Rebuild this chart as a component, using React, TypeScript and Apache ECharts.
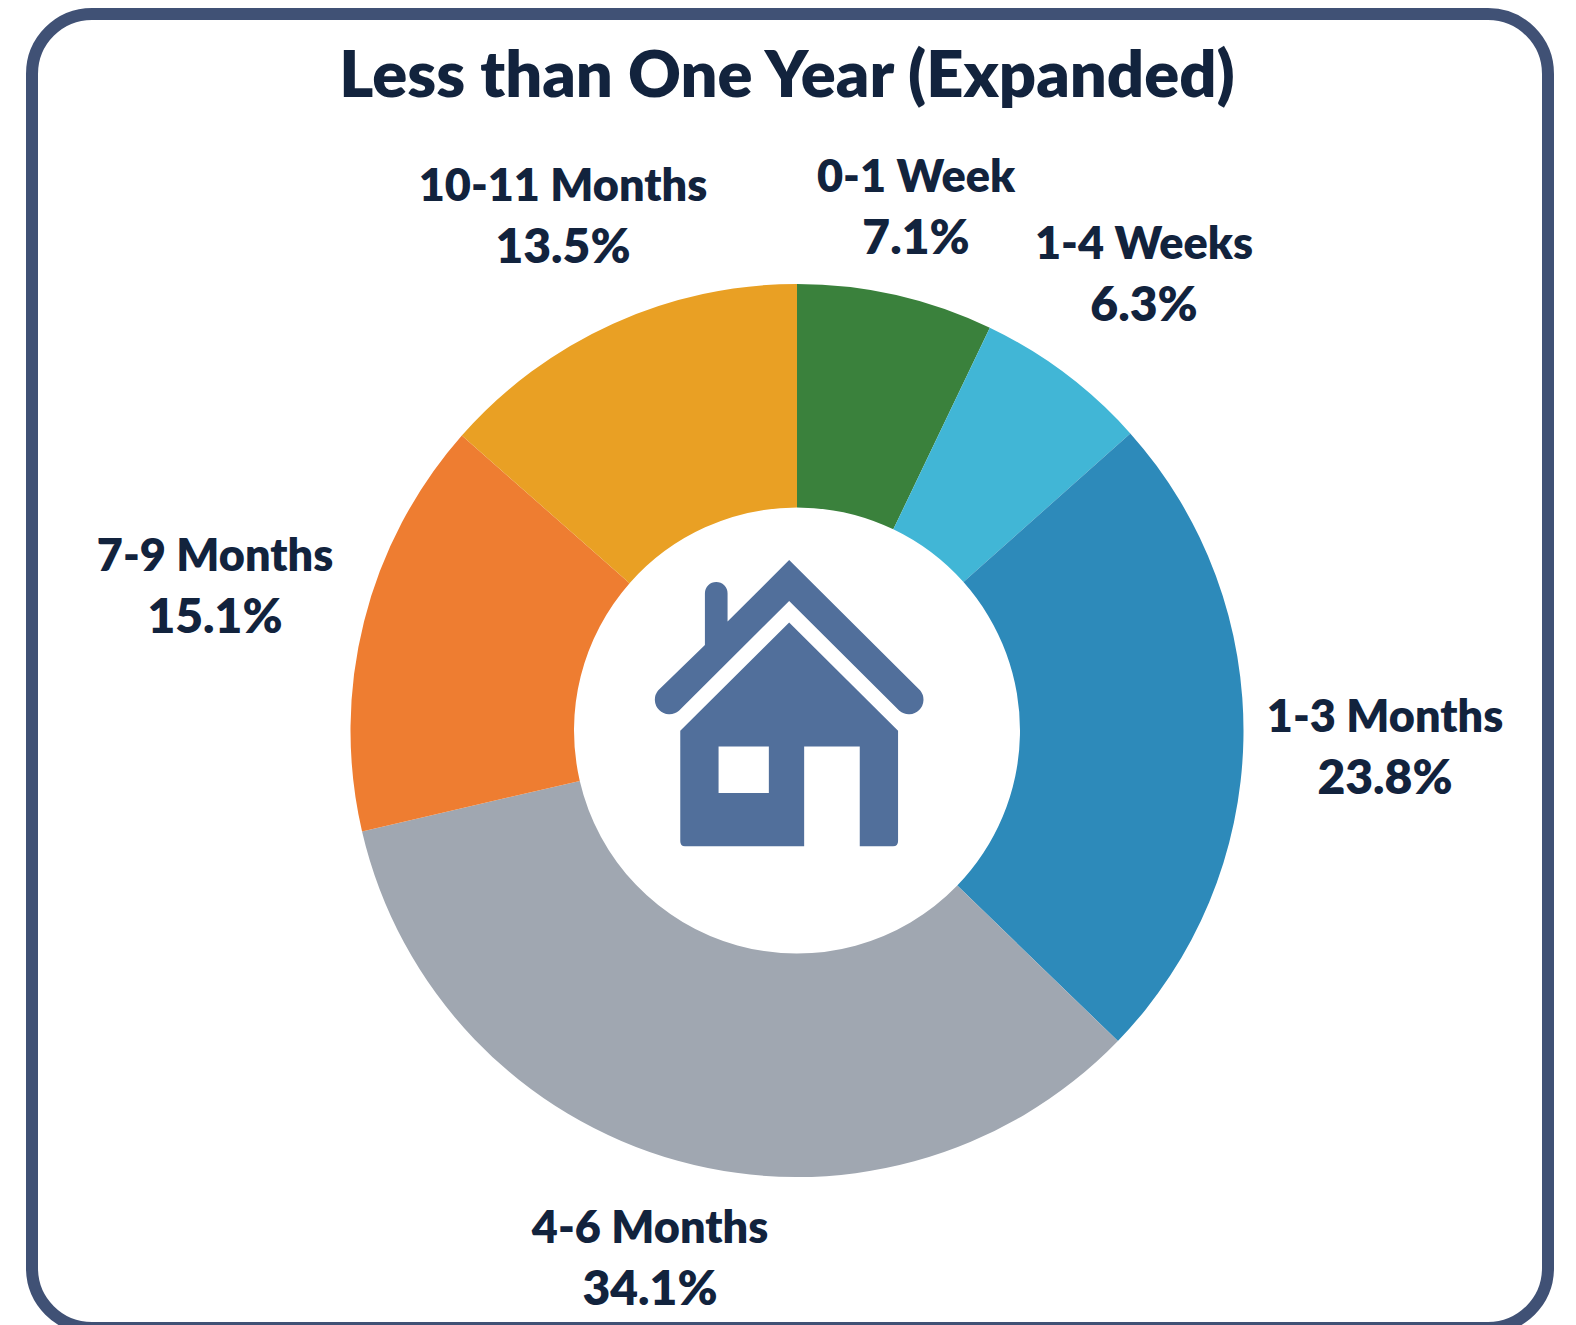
import React, { useEffect, useRef } from "react";
import * as echarts from "echarts";

const titleText = "Less than One Year (Expanded)";
const categories = ["0-1 Week", "1-4 Weeks", "1-3 Months", "4-6 Months", "7-9 Months", "10-11 Months"];
const shares = [7.1, 6.3, 23.8, 34.1, 15.1, 13.5];
const colors = ["#3A813C", "#41B6D6", "#2D8ABA", "#A0A7B1", "#EE7D31", "#E9A024"];
const labelCentersX = [916, 1144, 1385, 650, 215, 563];
const labelCentersY = [205, 272, 745, 1256, 584, 214];

const TEXT = "#12233D";
const FONT = "Lato";

const HOUSE_D =
  "M508 90 L901 481 A44 44 0 0 1 839 543 L508 213 L177 543 A44 44 0 0 1 115 481 L255 345 L255 190 A34 34 0 0 1 323 190 L323 275 Z " +
  "M508 278 L835 603 L835 935 Q835 950 820 950 L720 950 L720 650 L553 650 L553 950 L195 950 Q181 950 181 935 L181 603 Z " +
  "M296 650 L296 790 L447 790 L447 650 Z";

echarts.graphic.registerShape("houseIcon", echarts.graphic.extendPath(HOUSE_D, {}) as any);

export default function App() {
  const ref = useRef<HTMLDivElement>(null);
  useEffect(() => {
    const chart = echarts.init(ref.current!, undefined, { renderer: "svg" });
    chart.setOption({
      animation: false,
      backgroundColor: "#ffffff",
      title: {
        text: titleText,
        left: 782,
        top: 67,
        textAlign: "center",
        textVerticalAlign: "middle",
        textStyle: { fontFamily: FONT, fontWeight: 800, fontSize: 65, color: TEXT },
      },
      graphic: [
        {
          type: "rect",
          shape: { x: 32, y: 14, width: 1516, height: 1314, r: 60 },
          style: { fill: "none", stroke: "#405175", lineWidth: 12 },
          silent: true,
        },
        {
          type: "houseIcon",
          x: 620,
          y: 530,
          scaleX: 1 / 3,
          scaleY: 1 / 3,
          style: { fill: "#516F9B" },
          silent: true,
        },
      ],
      series: [
        {
          type: "pie",
          center: [797, 730.5],
          radius: [223, 446.5],
          startAngle: 90,
          clockwise: true,
          data: categories.map((name, i) => ({ name, value: shares[i], itemStyle: { color: colors[i] } })),
          label: {
            position: "outside",
            formatter: (p: any) => `{n|${p.name}}\n{v|${p.value}%}`,
            color: TEXT,
            align: "center",
            rich: {
              n: { fontFamily: FONT, fontWeight: 800, fontSize: 45, lineHeight: 60, color: TEXT, align: "center" },
              v: { fontFamily: FONT, fontWeight: 800, fontSize: 48, lineHeight: 60, color: TEXT, align: "center" },
            },
          },
          labelLine: { show: false },
          labelLayout: (p: any) => ({
            x: labelCentersX[p.dataIndex],
            y: labelCentersY[p.dataIndex],
            align: "center",
            verticalAlign: "middle",
          }),
          emphasis: { disabled: true },
          silent: true,
        },
      ],
    });
    return () => chart.dispose();
  }, []);
  return <div ref={ref} style={{ position: "fixed", left: 0, top: 0, width: 1576, height: 1325 }} />;
}
